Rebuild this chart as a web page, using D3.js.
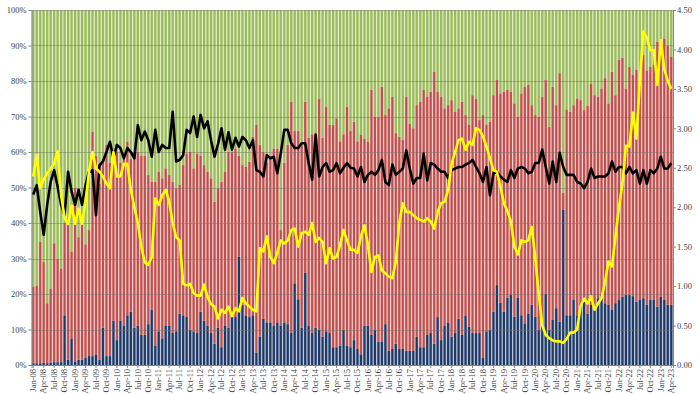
<!DOCTYPE html>
<html>
	<head>
		<script src="https://d3js.org/d3.v7.min.js"></script>
		<style>
			body { margin: 0; background: #fff; }
			text { font-family: "Liberation Serif", "DejaVu Serif", serif; fill: #404040; }
		</style>
	</head>
	<body>
		<script>
			// months Jan-08 .. Apr-23
			var years = ["08","09","10","11","12","13","14","15","16","17","18","19","20","21","22","23"];
			var month_names = ["Jan","Feb","Mar","Apr","May","Jun","Jul","Aug","Sep","Oct","Nov","Dec"];
			var months = [];
			years.forEach(function (y) {
				month_names.forEach(function (m) {
					if (months.length < 184) months.push(m + "-" + y);
				});
			});

			// bottom series (% of total)
			var blue = [0.5,0.5,0.5,0.6,0.5,0.6,0.8,0.8,0.8,14,1.5,7.5,1,1.5,1.5,2,2.5,2.5,3,1.5,
				10.5,2.5,2.5,12.5,7,12.5,11,14,15,10.5,11,8.5,8.5,11.5,15.5,5.5,9.5,7.5,11,11,
				9,9.5,14.5,14,13.5,10,9.5,9,15,12.5,11,9,6,10.5,5,11,10.5,15,13.5,30.5,
				17,14,13.5,14,3.5,8,13,12,12,11,12,11,12,11.5,9,23,18.5,10.5,26,11,
				9,10.5,10,8,9.5,9,5,5,5.5,10,5.5,5,7,4.5,3,11,11,8.5,10,6.5,
				6.5,11.5,4,4.5,6,4.5,4.5,4,4,4,8,5,5,8.5,9,6,13.5,7,11,12,
				8,9,13,8.5,13.8,10.8,9,9,9,2,9.5,10,15,22.5,17.5,15,19,19.7,13.6,19,
				14,11.7,14.5,17,13.6,10,11.3,20,10,12.7,16,12.2,43.7,14,14,18.3,14,17.4,17.8,14.5,
				17,17,18.8,20,17.4,17,15.5,17.4,18.3,19.2,19.7,19.7,19.4,17.8,18.3,18.8,17,18.3,18.3,16.4,
				19.2,18.3,17,17];
			// top of the middle series (blue + red, % of total)
			var red_top = [22,22.4,34.7,29,17.4,21.6,34.3,30,27.2,40,41,32,50,36,40,34,38,65.7,59,51,
				58,62,57,59,60,57,58,63,58,60,60,59,59,53.5,51.6,51.6,54.5,52.6,55.4,53.5,
				51.6,49.8,50.7,56.3,59.6,60,55.4,59.6,59,56.3,54.5,52.6,46,49.8,51.6,54.5,60,60,61,59,
				56.3,55.9,57.3,64.3,67.6,62,60,57,59,61,61,38,57,62,74.2,66,66,62,74.2,64,
				65,61,75,64,72.8,67.6,67.6,69.5,63,65,72.8,66,68.5,63,64.8,63.8,63,77.5,70,70,
				78.4,70.4,72.3,75.6,65.3,64.3,63.4,75.6,68,66.7,73.2,74.2,77.5,75.6,77,82.6,77,75.6,72.3,73.2,
				74.6,71.4,72.3,74.2,70.4,67.6,76,75,69,70.4,67.6,68.5,76,80.3,76.5,77,77.5,77,73.7,70,
				76.5,78.4,78.9,73.2,70.4,70,75.6,80.3,67.1,78.4,73.2,82.2,48.5,72,71.4,73.2,75.1,74.6,71.8,73,
				79.3,76,75.6,77.9,80.8,73.7,82.6,76,85.9,86.6,77.9,84,81.7,83.1,78.9,87.3,83,84,84.5,91,
				88.3,92,90,86.9];
			// right axis lines
			var yellow = [2.39,2.66,2.24,2.35,2.43,2.49,2.55,2.71,2.15,1.86,1.79,2.02,1.79,1.98,1.79,2.07,2.45,2.70,2.49,2.45,
				2.39,2.30,2.24,2.70,2.39,2.39,2.55,2.55,2.22,2.0,1.8,1.5,1.3,1.27,1.37,2.11,2.03,2.15,2.22,2.07,
				1.8,1.62,1.58,1.03,1.01,1.03,0.91,0.88,0.88,1.02,0.86,0.77,0.74,0.59,0.70,0.66,0.74,0.62,0.72,0.68,
				0.85,0.78,0.74,0.70,0.68,1.48,1.44,1.63,1.37,1.29,1.42,1.58,1.54,1.58,1.71,1.73,1.50,1.67,1.69,1.65,
				1.80,1.56,1.61,1.56,1.29,1.48,1.35,1.37,1.52,1.71,1.58,1.46,1.46,1.42,1.63,1.77,1.52,1.18,1.37,1.39,
				1.20,1.16,1.12,1.10,1.31,1.8,2.05,1.94,1.94,1.90,1.86,1.84,1.82,1.86,1.82,1.73,1.94,2.05,2.07,2.22,
				2.55,2.70,2.85,2.87,2.73,2.83,2.79,3.00,2.98,2.90,2.77,2.62,2.47,2.45,2.26,2.05,1.95,1.82,1.5,1.4,
				1.58,1.56,1.58,1.75,1.35,0.9,0.5,0.38,0.34,0.31,0.30,0.30,0.28,0.33,0.41,0.41,0.45,0.75,0.84,0.78,
				0.87,0.70,0.78,0.85,1.05,1.31,1.25,1.63,2.0,2.3,2.78,2.77,3.2,2.87,3.6,4.23,4.15,3.99,3.99,3.55,
				4.12,3.75,3.6,3.5];
			var black = [2.16,2.28,1.94,1.65,2.03,2.32,2.47,2.26,2.03,1.90,2.45,2.2,2.03,2.22,2.03,2.28,2.45,2.47,1.90,2.53,
				2.58,2.7,2.83,2.62,2.79,2.75,2.62,2.75,2.7,2.62,3.04,2.85,2.96,2.85,2.64,2.98,2.70,2.79,2.75,2.75,
				3.21,2.58,2.60,2.66,2.98,2.94,3.15,2.89,3.17,3.0,3.09,2.85,2.64,2.8,3.0,2.73,2.95,2.73,2.88,2.77,
				2.89,2.85,2.75,2.85,2.47,2.45,2.39,2.66,2.62,2.64,2.43,2.68,2.98,2.98,2.81,2.75,2.75,2.81,2.81,2.56,
				2.35,2.92,2.39,2.51,2.56,2.45,2.47,2.56,2.43,2.50,2.56,2.50,2.49,2.39,2.51,2.32,2.41,2.45,2.41,2.47,
				2.60,2.32,2.28,2.54,2.41,2.45,2.49,2.72,2.49,2.30,2.37,2.37,2.68,2.34,2.56,2.54,2.49,2.45,2.45,2.37,
				2.47,2.49,2.51,2.51,2.54,2.56,2.60,2.51,2.43,2.32,2.51,2.15,2.43,2.45,2.39,2.35,2.32,2.47,2.37,2.49,
				2.51,2.49,2.43,2.45,2.56,2.56,2.73,2.51,2.30,2.58,2.32,2.69,2.51,2.41,2.41,2.41,2.32,2.30,2.24,2.32,
				2.49,2.37,2.39,2.39,2.39,2.43,2.58,2.45,2.51,2.51,2.43,2.51,2.43,2.47,2.30,2.47,2.30,2.47,2.43,2.49,
				2.64,2.49,2.49,2.56];
			var left_ticks = [0,10,20,30,40,50,60,70,80,90,100];
			var right_ticks = [0,0.5,1,1.5,2,2.5,3,3.5,4,4.5];
			// every third month is labelled
			var x_labels = months.filter(function (d, i) { return i % 3 == 0; });

			var width = 700;
			var height = 394;
			var plot_left = 31.5, plot_right = 673, plot_top = 10, plot_bottom = 365;

			var svg = d3.select('body').append('svg')
				.attr('width', width)
				.attr('height', height);

			var x = d3.scaleBand().domain(months).range([plot_left, plot_right]).padding(0);
			var y = d3.scaleLinear().domain([0, 100]).range([plot_bottom, plot_top]);
			var y2 = d3.scaleLinear().domain([0, 4.5]).range([plot_bottom, plot_top]);

			var bw = x.bandwidth();
			var inner = bw * 0.62;

			// stacked segments
			var segs = [];
			months.forEach(function (m, i) {
				segs.push({m: m, y0: 0, y1: blue[i], c: "#1f3864", l: "#aab8cf"});
				segs.push({m: m, y0: blue[i], y1: red_top[i], c: "#c0504d", l: "#eec3c2"});
				segs.push({m: m, y0: red_top[i], y1: 100, c: "#9bbb59", l: "#d9e6c3"});
			});

			var bars = svg.append('g');
			bars.selectAll('rect.bg')
				.data(segs)
				.enter()
				.append('rect')
				.attr('class', 'bg')
				.attr('x', function (d) { return x(d.m); })
				.attr('width', bw + 0.05)
				.attr('y', function (d) { return y(d.y1); })
				.attr('height', function (d) { return y(d.y0) - y(d.y1); })
				.style('fill', function (d) { return d.l; });
			bars.selectAll('rect.fg')
				.data(segs)
				.enter()
				.append('rect')
				.attr('class', 'fg')
				.attr('x', function (d) { return x(d.m) + (bw - inner) / 2; })
				.attr('width', inner)
				.attr('y', function (d) { return y(d.y1); })
				.attr('height', function (d) { return y(d.y0) - y(d.y1); })
				.style('fill', function (d) { return d.c; });

			// gridlines
			svg.append('g').selectAll('line')
				.data(left_ticks.slice(1))
				.enter()
				.append('line')
				.attr('x1', plot_left).attr('x2', plot_right)
				.attr('y1', function (d) { return Math.round(y(d)) + 0.5; })
				.attr('y2', function (d) { return Math.round(y(d)) + 0.5; })
				.style('stroke', '#6f6f6f')
				.style('stroke-opacity', 0.45);

			// axes
			var yAxis = d3.axisLeft(y).tickValues(left_ticks).tickSize(3)
				.tickFormat(function (d) { return d + "%"; });
			var gy = svg.append('g').attr('transform', 'translate(' + plot_left + ',0)').call(yAxis);
			var yAxis2 = d3.axisRight(y2).tickValues(right_ticks).tickSize(3)
				.tickFormat(d3.format('.2f'));
			var gy2 = svg.append('g').attr('transform', 'translate(' + plot_right + ',0)').call(yAxis2);
			var xAxis = d3.axisBottom(x).tickValues(x_labels).tickSize(3);
			var gx = svg.append('g').attr('transform', 'translate(0,' + plot_bottom + ')').call(xAxis);

			[gy, gy2, gx].forEach(function (g) {
				g.selectAll('path.domain').style('stroke', '#868686');
				g.selectAll('.tick line').style('stroke', '#868686');
				g.selectAll('text').style('font-size', '8.5px').style('fill', '#404040');
			});
			gy.selectAll('text').attr('x', -5);
			gy2.selectAll('text').attr('x', 4);
			gx.selectAll('text')
				.attr('transform', 'rotate(-90)')
				.attr('x', -4)
				.attr('y', 0)
				.attr('dy', '0.32em')
				.style('text-anchor', 'end');

			// lines on the right axis
			function draw_line(values, color) {
				var line = d3.line()
					.x(function (d, i) { return x(months[i]) + bw / 2; })
					.y(function (d) { return y2(d); });
				svg.append('path')
					.datum(values)
					.attr('d', line)
					.style('fill', 'none')
					.style('stroke', color)
					.style('stroke-width', 2.6)
					.style('stroke-linejoin', 'round');
			}
			draw_line(black, '#000000');
			draw_line(yellow, '#ffff00');
		</script>
	</body>
</html>
